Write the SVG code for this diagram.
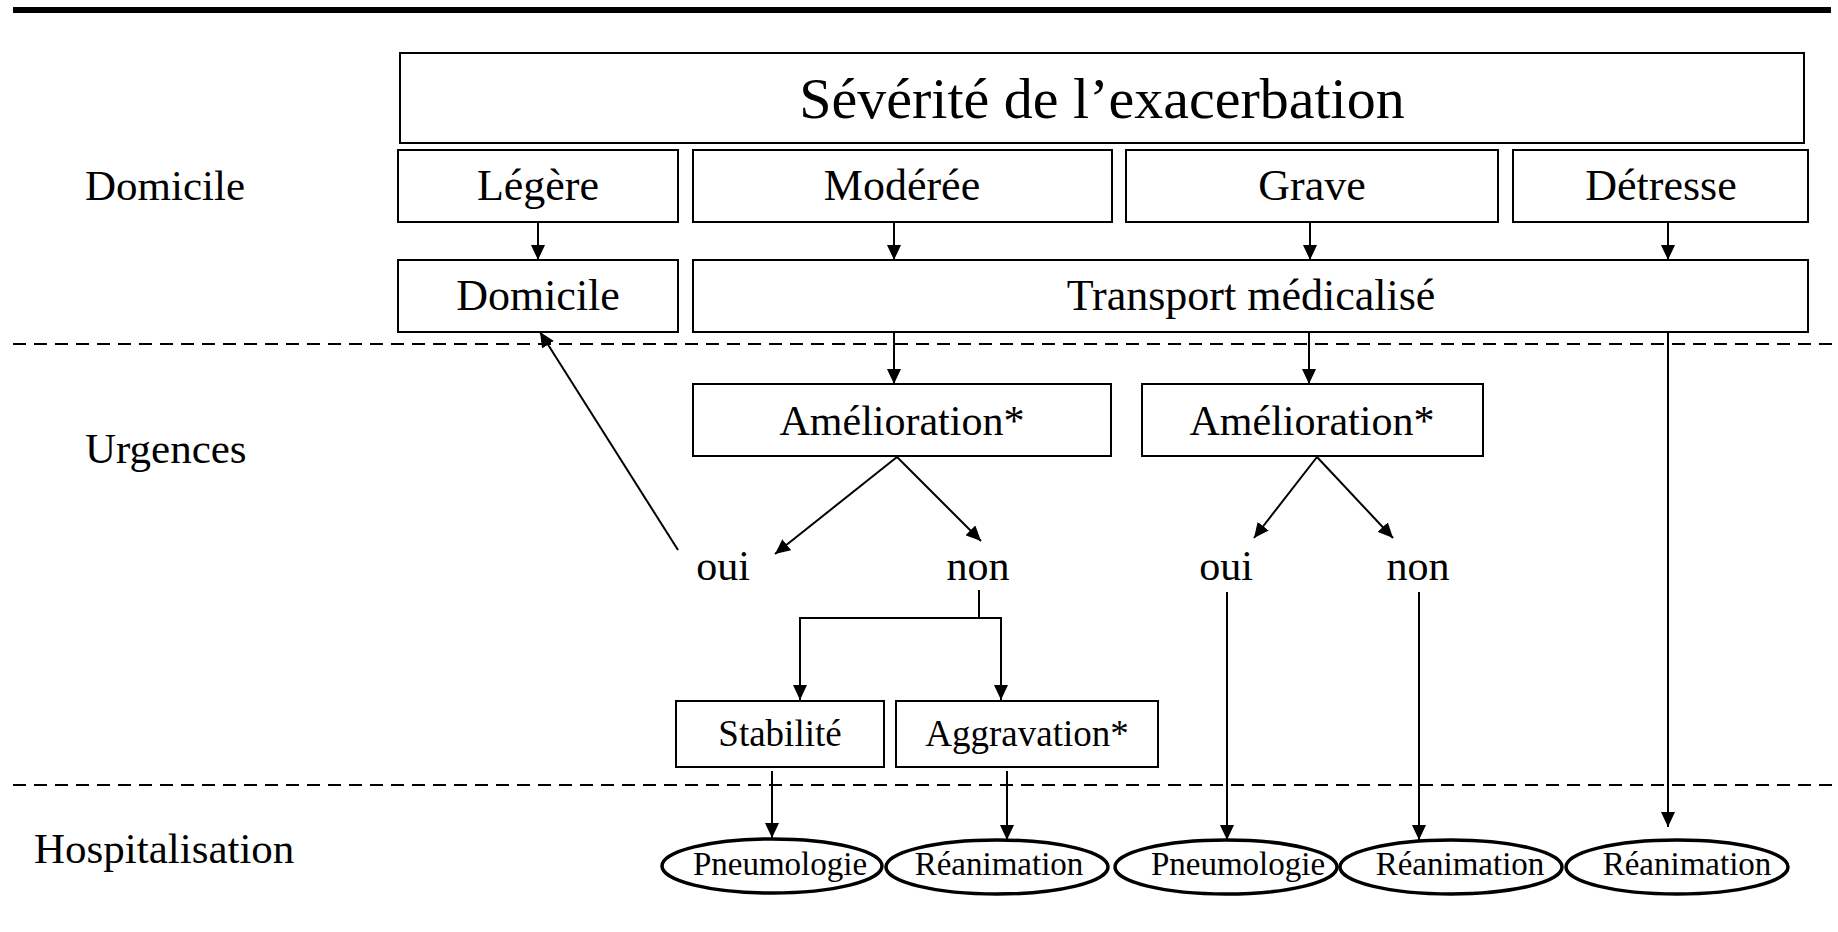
<svg xmlns="http://www.w3.org/2000/svg" width="1838" height="932" viewBox="0 0 1838 932">
<style>
  text { font-family: "Liberation Serif", "Times New Roman", serif; fill: #000; }
  .box { fill: #fff; stroke: #000; stroke-width: 2; }
  .ell { fill: #fff; stroke: #000; stroke-width: 3.5; }
  .c { text-anchor: middle; }
  .f44 { font-size: 44px; }
  .f42 { font-size: 42px; }
  .f37 { font-size: 37px; }
  .f33 { font-size: 33px; }
  .lbl { font-size: 43px; }
  .ln { fill: none; stroke: #000; stroke-width: 2; }
  .arr { marker-end: url(#ah); }
  .dash { fill: none; stroke: #000; stroke-width: 2; stroke-dasharray: 13 8; }
</style>
<defs>
  <marker id="ah" markerUnits="userSpaceOnUse" markerWidth="16" markerHeight="14" refX="15" refY="7" orient="auto">
    <path d="M0,0 L15,7 L0,14 Z" fill="#000"/>
  </marker>
</defs>
<rect x="0" y="0" width="1838" height="932" fill="#fff"/>
<rect x="13" y="7" width="1818" height="6" fill="#000"/>

<g id="separators">
  <line class="dash" x1="13" y1="344" x2="1838" y2="344"/>
  <line class="dash" x1="13" y1="785" x2="1838" y2="785"/>
</g>

<g id="row-labels">
  <text class="lbl" x="85" y="200">Domicile</text>
  <text class="lbl" x="85" y="463">Urgences</text>
  <text class="lbl" x="34" y="863">Hospitalisation</text>
</g>

<g id="title">
  <rect class="box" x="400" y="53" width="1404" height="90"/>
  <text class="c" x="1102" y="118" font-size="58">Sévérité de l’exacerbation</text>
</g>
<g id="legere">
  <rect class="box" x="398" y="150" width="280" height="72"/>
  <text class="c f44" x="538" y="200">Légère</text>
</g>
<g id="moderee">
  <rect class="box" x="693" y="150" width="419" height="72"/>
  <text class="c f44" x="902" y="200">Modérée</text>
</g>
<g id="grave">
  <rect class="box" x="1126" y="150" width="372" height="72"/>
  <text class="c f44" x="1312" y="200">Grave</text>
</g>
<g id="detresse">
  <rect class="box" x="1513" y="150" width="295" height="72"/>
  <text class="c f44" x="1661" y="200">Détresse</text>
</g>
<g id="domicile">
  <rect class="box" x="398" y="260" width="280" height="72"/>
  <text class="c f44" x="538" y="310">Domicile</text>
</g>
<g id="transport">
  <rect class="box" x="693" y="260" width="1115" height="72"/>
  <text class="c f44" x="1251" y="310">Transport médicalisé</text>
</g>
<g id="amelioration-1">
  <rect class="box" x="693" y="384" width="418" height="72"/>
  <text class="c f42" x="902" y="435">Amélioration*</text>
</g>
<g id="amelioration-2">
  <rect class="box" x="1142" y="384" width="341" height="72"/>
  <text class="c f42" x="1312" y="435">Amélioration*</text>
</g>
<g id="oui-1"><text class="c f42" x="723" y="580">oui</text></g>
<g id="non-1"><text class="c f42" x="978" y="580">non</text></g>
<g id="oui-2"><text class="c f42" x="1226" y="580">oui</text></g>
<g id="non-2"><text class="c f42" x="1418" y="580">non</text></g>
<g id="stabilite">
  <rect class="box" x="676" y="701" width="208" height="66"/>
  <text class="c f37" x="780" y="746">Stabilité</text>
</g>
<g id="aggravation">
  <rect class="box" x="896" y="701" width="262" height="66"/>
  <text class="c f37" x="1027" y="746">Aggravation*</text>
</g>
<g id="pneumologie-1">
  <ellipse class="ell" cx="772" cy="866" rx="110" ry="27"/>
  <text class="c f33" x="780" y="875">Pneumologie</text>
</g>
<g id="reanimation-1">
  <ellipse class="ell" cx="997" cy="867" rx="111" ry="27"/>
  <text class="c f33" x="999" y="875">Réanimation</text>
</g>
<g id="pneumologie-2">
  <ellipse class="ell" cx="1226" cy="867" rx="111" ry="27"/>
  <text class="c f33" x="1238" y="875">Pneumologie</text>
</g>
<g id="reanimation-2">
  <ellipse class="ell" cx="1451" cy="867" rx="111" ry="27"/>
  <text class="c f33" x="1460" y="875">Réanimation</text>
</g>
<g id="reanimation-3">
  <ellipse class="ell" cx="1677" cy="867" rx="111" ry="27"/>
  <text class="c f33" x="1687" y="875">Réanimation</text>
</g>

<g id="connectors">
  <line class="ln arr" x1="538" y1="222" x2="538" y2="260"/>
  <line class="ln arr" x1="894" y1="222" x2="894" y2="260"/>
  <line class="ln arr" x1="1310" y1="222" x2="1310" y2="260"/>
  <line class="ln arr" x1="1668" y1="222" x2="1668" y2="260"/>
  <line class="ln arr" x1="894" y1="332" x2="894" y2="384"/>
  <line class="ln arr" x1="1309" y1="332" x2="1309" y2="384"/>
  <line class="ln arr" x1="897" y1="457" x2="775" y2="554"/>
  <line class="ln arr" x1="897" y1="457" x2="981" y2="541"/>
  <line class="ln arr" x1="1317" y1="457" x2="1254" y2="538"/>
  <line class="ln arr" x1="1317" y1="457" x2="1393" y2="538"/>
  <line class="ln arr" x1="678" y1="550" x2="540" y2="332"/>
  <path class="ln arr" d="M979,590 V618 H800 V700"/>
  <path class="ln arr" d="M979,618 H1001 V700"/>
  <line class="ln arr" x1="772" y1="771" x2="772" y2="838"/>
  <line class="ln arr" x1="1007" y1="771" x2="1007" y2="840"/>
  <line class="ln arr" x1="1227" y1="592" x2="1227" y2="840"/>
  <line class="ln arr" x1="1419" y1="592" x2="1419" y2="840"/>
  <line class="ln arr" x1="1668" y1="332" x2="1668" y2="827"/>
</g>
</svg>
